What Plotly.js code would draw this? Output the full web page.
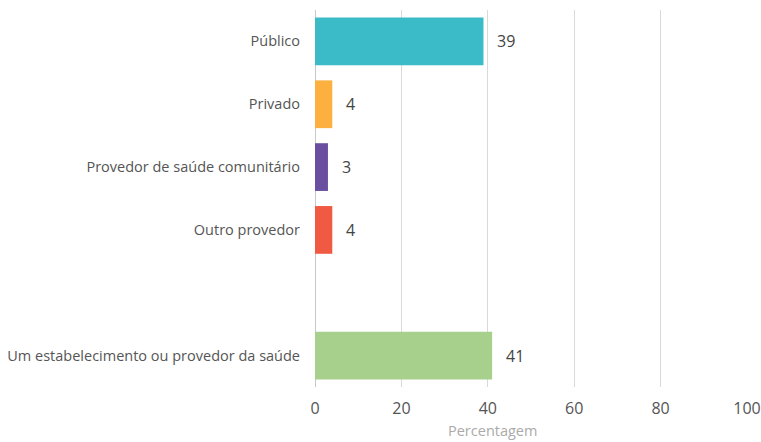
<!DOCTYPE html>
<html><head><meta charset="utf-8">
<script src="https://cdn.plot.ly/plotly-3.0.1.min.js"></script>
<style>html,body{margin:0;padding:0;background:#fff}#c{width:761px;height:442px}</style>
</head><body><div id="c"></div>
<script>
const categories = ["Público","Privado","Provedor de saúde comunitário","Outro provedor"," ","Um estabelecimento ou provedor da saúde"];
const values = [39,4,3,4,null,41];
const colors = ["#3bbac8","#fbb040","#6a4fa0","#f15a42","#ffffff","#a8d08d"];
const xTicks = [0,20,40,60,80,100];
const xTitle = "Percentagem";

const font = "'Open Sans', 'Liberation Sans', sans-serif";
const trace = {
  type: "bar", orientation: "h",
  y: categories, x: values,
  marker: {color: colors},
  width: 0.76,
  hoverinfo: "none"
};
const annotations = [];
categories.forEach((c,i)=>{
  if (values[i]===null) return;
  annotations.push({x: values[i], y: c, xref:"x", yref:"y", text: String(values[i]),
    showarrow:false, xanchor:"left", xshift:12, font:{family:font,size:16,color:"#444"}});
});
annotations.push({xref:"paper", yref:"paper", x:0.412, y:-0.143, xanchor:"center", yanchor:"bottom",
  text:xTitle, showarrow:false, borderpad:0, font:{family:font,size:14.5,color:"#aaa"}});
const layout = {
  width:761, height:442,
  margin:{l:315, r:14, t:10, b:55},
  paper_bgcolor:"#fff", plot_bgcolor:"#fff",
  showlegend:false,
  font:{family:font, size:14.5, color:"#555"},
  xaxis:{range:[0,100], tickvals:xTicks, ticktext:xTicks.map(String), showgrid:true, gridcolor:"#d9d9d9", gridwidth:1,
    zeroline:true, zerolinecolor:"#c8c8c8", zerolinewidth:1, showline:false,
    tickfont:{size:16,color:"#555"}, ticks:"", ticklabelstandoff:10, fixedrange:true},
  yaxis:{type:"category", autorange:"reversed", showgrid:false, zeroline:false, showline:false,
    ticks:"", ticklabelstandoff:14, tickfont:{size:14.5,color:"#555"}},
  annotations: annotations
};
Plotly.newPlot("c",[trace],layout,{displayModeBar:false,staticPlot:true});
</script></body></html>
